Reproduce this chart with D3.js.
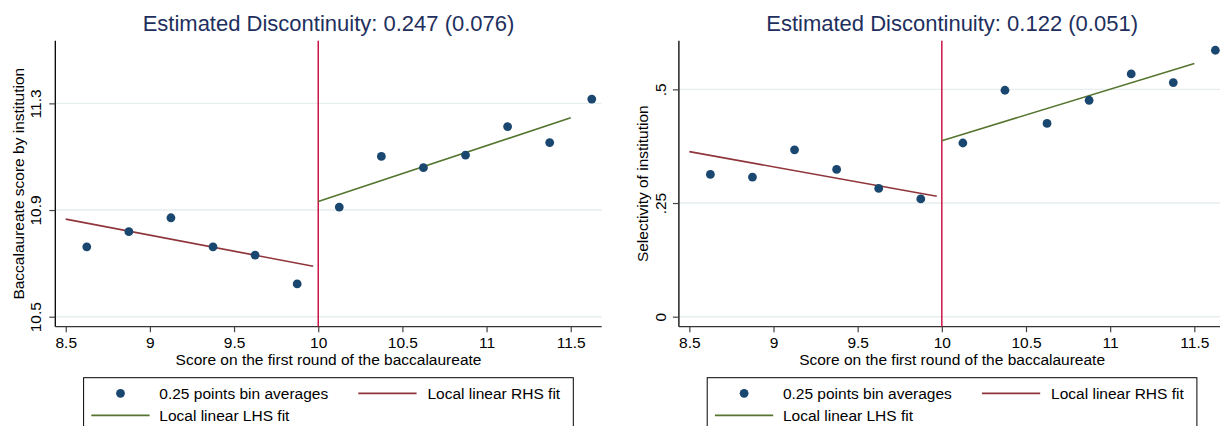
<!DOCTYPE html>
<html>
<head>
<meta charset="utf-8">
<script src="https://cdn.jsdelivr.net/npm/d3@7"></script>
<style>
  html, body { margin: 0; padding: 0; background: #fff; }
  svg { display: block; font-family: "Liberation Sans", Arial, sans-serif; }
</style>
</head>
<body>
<div id="chart"></div>
<script>
// bin midpoints (0.25 point bins)
const binX = [8.625, 8.875, 9.125, 9.375, 9.625, 9.875, 10.125, 10.375, 10.625, 10.875, 11.125, 11.375, 11.625];

// panel 1: baccalaureate score by institution
const scoreBins = [10.762, 10.819, 10.871, 10.762, 10.731, 10.623, 10.911, 11.101, 11.059, 11.106, 11.213, 11.153, 11.316];
const scoreFitRed = [[8.5, 10.866], [9.97, 10.689]];
const scoreFitGreen = [[10, 10.932], [11.5, 11.246]];
const scoreTicks = [10.5, 10.9, 11.3];
const scoreTickLabels = ["10.5", "10.9", "11.3"];

// panel 2: selectivity of institution
const selectBins = [0.313, 0.307, 0.367, 0.324, 0.282, 0.259, 0.382, 0.498, 0.425, 0.476, 0.534, 0.515, 0.586];
const selectFitRed = [[8.5, 0.363], [9.97, 0.265]];
const selectFitGreen = [[10, 0.387], [11.5, 0.557]];
const selectTicks = [0, 0.25, 0.5];
const selectTickLabels = ["0", ".25", ".5"];

const xTicks = [8.5, 9, 9.5, 10, 10.5, 11, 11.5];
const xTickLabels = ["8.5", "9", "9.5", "10", "10.5", "11", "11.5"];
const cutoff = 10;

const titles = ["Estimated Discontinuity: 0.247 (0.076)", "Estimated Discontinuity: 0.122 (0.051)"];
const yTitles = ["Baccalaureate score by institution", "Selectivity of institution"];
const xTitle = "Score on the first round of the baccalaureate";
const legendLabels = ["0.25 points bin averages", "Local linear RHS fit", "Local linear LHS fit"];

const W = 1220, H = 426;
const colors = {
  marker: "#1a476f",
  red: "#90353b",
  green: "#55752f",
  cut: "#c8043a",
  grid: "#e6eeef",
  title: "#1e2f5e"
};

const svg = d3.select("#chart").append("svg")
  .attr("width", W)
  .attr("height", H)
  .attr("viewBox", [0, 0, W, H]);

const panels = [
  { off: 0, axisX: 55.3, yDomain: [10.4625, 11.535], bins: scoreBins, red: scoreFitRed, green: scoreFitGreen,
    ticks: scoreTicks, tickLabels: scoreTickLabels, lblOff: 14.8 },
  { off: 623.6, axisX: 55.3, yDomain: [-0.022, 0.607], bins: selectBins, red: selectFitRed, green: selectFitGreen,
    ticks: selectTicks, tickLabels: selectTickLabels, lblOff: 12.8 }
];

const plotTop = 40.7, plotBottom = 326.7, plotW = 546.4;
const fs = 15.5;

panels.forEach((p, i) => {
  const g = svg.append("g").attr("transform", `translate(${p.off},0)`);
  const x0 = p.axisX, x1 = p.axisX + plotW;

  const sx = d3.scaleLinear().domain([8.438, 11.684]).range([x0, x1]);
  const sy = d3.scaleLinear().domain(p.yDomain).range([plotBottom, plotTop]);

  // gridlines
  g.append("g")
    .selectAll("line")
    .data(p.ticks)
    .join("line")
    .attr("x1", x0).attr("x2", x1)
    .attr("y1", d => sy(d)).attr("y2", d => sy(d))
    .attr("stroke", colors.grid)
    .attr("stroke-width", 1.4);

  // y axis
  const ay = g.append("g")
    .attr("transform", `translate(${x0},0)`)
    .call(d3.axisLeft(sy).tickValues(p.ticks)
      .tickFormat((d, k) => p.tickLabels[k]).tickSizeOuter(0).tickSize(6))
    .call(a => a.select(".domain").attr("d", `M0,${plotTop}V${plotBottom}`).attr("stroke", "#000").attr("stroke-width", 1.3));
  ay.selectAll(".tick line").attr("stroke", "#444").attr("stroke-width", 1.2);
  ay.selectAll(".tick text")
    .attr("x", null).attr("dy", null)
    .attr("transform", `translate(${-p.lblOff},0) rotate(-90)`)
    .attr("text-anchor", "middle")
    .attr("font-size", fs)
    .attr("font-family", "Liberation Sans, Arial, sans-serif")
    .attr("fill", "#000");

  // x axis
  const ax = g.append("g")
    .attr("transform", `translate(0,${plotBottom})`)
    .call(d3.axisBottom(sx).tickValues(xTicks)
      .tickFormat((d, k) => xTickLabels[k]).tickSizeOuter(0).tickSize(5.5))
    .call(a => a.select(".domain").attr("d", `M${x0},0H${x1}`).attr("stroke", "#333").attr("stroke-width", 1.3));
  ax.selectAll(".tick line").attr("stroke", "#444").attr("stroke-width", 1.2);
  ax.selectAll(".tick text")
    .attr("y", 21.5).attr("dy", null)
    .attr("font-size", fs)
    .attr("font-family", "Liberation Sans, Arial, sans-serif")
    .attr("fill", "#000");

  // cutoff line
  g.append("line")
    .attr("x1", sx(cutoff)).attr("x2", sx(cutoff))
    .attr("y1", plotTop).attr("y2", plotBottom)
    .attr("stroke", colors.cut)
    .attr("stroke-width", 1.4);

  // fits
  const line = d3.line().x(d => sx(d[0])).y(d => sy(d[1]));
  g.append("path").attr("d", line(p.red)).attr("fill", "none")
    .attr("stroke", colors.red).attr("stroke-width", 1.6);
  g.append("path").attr("d", line(p.green)).attr("fill", "none")
    .attr("stroke", colors.green).attr("stroke-width", 1.6);

  // bin averages
  g.append("g")
    .selectAll("circle")
    .data(p.bins)
    .join("circle")
    .attr("cx", (d, k) => sx(binX[k]))
    .attr("cy", d => sy(d))
    .attr("r", 4.4)
    .attr("fill", colors.marker);

  // titles
  const mid = (x0 + x1) / 2 - (i === 1 ? 0 : 0);
  g.append("text")
    .attr("x", i === 0 ? mid : 328.5)
    .attr("y", 31)
    .attr("text-anchor", "middle")
    .attr("font-size", 22)
    .attr("fill", colors.title)
    .text(titles[i]);

  g.append("text")
    .attr("x", 328.5)
    .attr("y", 365)
    .attr("text-anchor", "middle")
    .attr("font-size", fs)
    .text(xTitle);

  g.append("text")
    .attr("transform", `translate(24.3,${(plotTop + plotBottom) / 2}) rotate(-90)`)
    .attr("text-anchor", "middle")
    .attr("font-size", fs)
    .text(yTitles[i]);

  // legend
  const lg = g.append("g");
  lg.append("rect")
    .attr("x", 83.6).attr("y", 377.7)
    .attr("width", 489.7).attr("height", 60)
    .attr("fill", "#fff").attr("stroke", "#000").attr("stroke-width", 1);
  const row1 = 393.3, row2 = 415.3;
  lg.append("circle").attr("cx", 120.5).attr("cy", row1).attr("r", 4.4).attr("fill", colors.marker);
  lg.append("text").attr("x", 159.3).attr("y", row1 + 5.5).attr("font-size", fs).text(legendLabels[0]);
  lg.append("line").attr("x1", 358.3).attr("x2", 416.6).attr("y1", row1).attr("y2", row1)
    .attr("stroke", colors.red).attr("stroke-width", 1.8);
  lg.append("text").attr("x", 427.5).attr("y", row1 + 5.5).attr("font-size", fs).text(legendLabels[1]);
  lg.append("line").attr("x1", 91.3).attr("x2", 149.6).attr("y1", row2).attr("y2", row2)
    .attr("stroke", colors.green).attr("stroke-width", 1.8);
  lg.append("text").attr("x", 159.3).attr("y", row2 + 5.5).attr("font-size", fs).text(legendLabels[2]);
});
</script>
</body>
</html>
